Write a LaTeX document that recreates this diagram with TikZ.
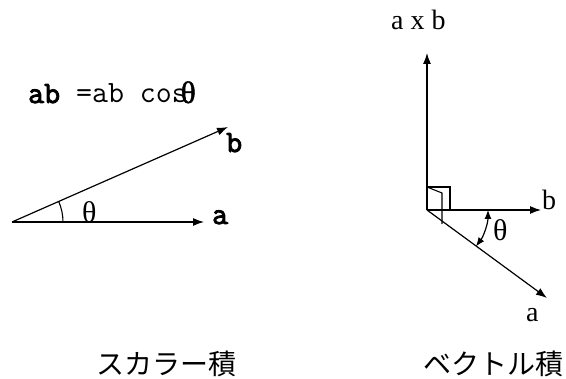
\documentclass[tikz,border=0pt]{standalone}
\usepackage{fontspec}
\setmainfont{Liberation Serif}
\newfontfamily\cjk{Noto Sans CJK JP}
\newfontfamily\monobold{Latin Modern Mono}[FakeBold=3]
\newfontfamily\thetabold{Liberation Serif}[FakeBold=1.5]
\usetikzlibrary{arrows.meta}
\begin{document}
\begin{tikzpicture}[x=1pt,y=-1pt,
  vec/.style={line width=1.2pt,-{Latex[length=11pt,width=8pt]}},
  thin line/.style={line width=1.1pt},
  mono/.style={font=\fontsize{31}{33}\selectfont\ttfamily,inner sep=0pt,anchor=base west},
  serif/.style={font=\fontsize{28}{30}\selectfont,inner sep=0pt,anchor=base west},
  thetalabel/.style={font=\fontsize{30}{32}\selectfont,inner sep=0pt,anchor=base west},
  jp/.style={font=\fontsize{28}{30}\selectfont\cjk,inner sep=0pt}]
\useasboundingbox (0,0) rectangle (566,379);
% left: scalar product
\coordinate (o1) at (12,222);
\coordinate (a1) at (204,222);
\coordinate (b1) at (228,127);
\draw[vec] (o1) -- (a1);
\draw[vec] (o1) -- (b1);
\draw[thin line] ([shift={(0:51)}]o1) arc[start angle=0,end angle=-23.8,radius=51];
\node[thetalabel] (th1) at (82,223) {θ};
\node[mono] (la) at (212,224) {{\monobold a}};
\node[mono] (lb) at (226,152) {{\monobold b}};
\node[mono] (form) at (28,103) {{\monobold ab} =ab cos\kern-7pt{\thetabold θ}};
% right: vector product
\coordinate (o2) at (427,210);
\coordinate (z2) at (427,53);
\coordinate (b2) at (541,210);
\coordinate (a2) at (547,298);
\draw[vec] (o2) -- (z2);
\draw[vec] (o2) -- (b2);
\draw[vec] (o2) -- (a2);
\draw[thin line] (427,187) -- (450,187) -- (450,210);
\draw[thin line] (427,187) -- (442,193) -- (442,224);
\draw[line width=1.2pt,{Latex[length=9pt,width=7pt]}-{Latex[length=9pt,width=7pt]}]
  ([shift={(0:61)}]o2) arc[start angle=0,end angle=36.7,radius=61];
\node[thetalabel] (th2) at (493,241) {θ};
\node[serif] (laxb) at (391,30) {a x b};
\node[serif] (lb2) at (542,210) {b};
\node[serif] (la2) at (526,322) {a};
% captions
\node[jp] (cap1) at (166,364) {スカラー積};
\node[jp] (cap2) at (493,364) {ベクトル積};
\end{tikzpicture}
\end{document}
